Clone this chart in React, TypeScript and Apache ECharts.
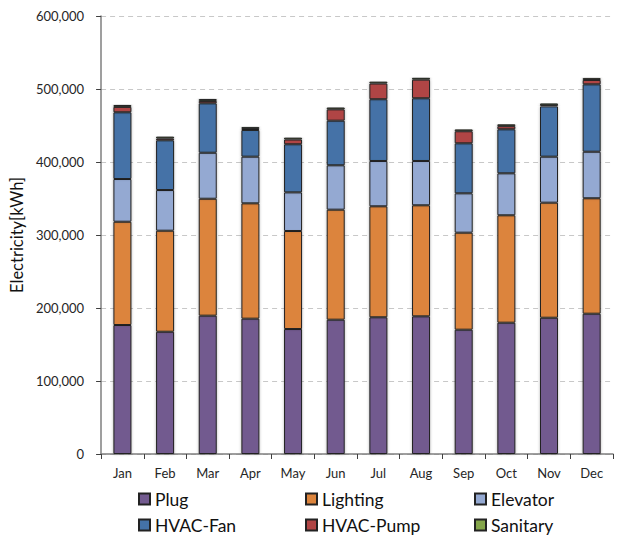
import React, { useEffect, useRef } from "react";
import * as echarts from "echarts";

const months = ["Jan", "Feb", "Mar", "Apr", "May", "Jun", "Jul", "Aug", "Sep", "Oct", "Nov", "Dec"];

// Monthly electricity use by end use [kWh]
const plug = [176700, 167500, 189500, 185400, 171200, 184000, 187300, 188600, 170300, 179900, 186700, 192200];
const lighting = [141500, 138400, 160200, 158000, 134300, 150700, 152000, 152100, 132900, 147100, 157600, 158100];
const elevator = [58500, 55700, 63000, 63900, 52900, 60800, 62100, 60700, 53900, 57500, 63000, 63800];
const hvacFan = [91400, 68100, 67700, 36500, 65900, 61100, 84600, 85900, 68500, 60300, 68900, 92300];
const hvacPump = [7400, 2500, 3300, 1500, 6500, 15500, 21500, 25500, 16500, 4300, 1500, 6000];
const sanitary = [2500, 2500, 2500, 2500, 2500, 2500, 2500, 2500, 2500, 2500, 2500, 2500];

const seriesDefs = [
  { name: "Plug", data: plug, color: "#725A8F" },
  { name: "Lighting", data: lighting, color: "#DC843C" },
  { name: "Elevator", data: elevator, color: "#94A9D2" },
  { name: "HVAC-Fan", data: hvacFan, color: "#4472A7" },
  { name: "HVAC-Pump", data: hvacPump, color: "#B04545" },
  { name: "Sanitary", data: sanitary, color: "#84A54A" },
];

const FONT = "Lato, 'Noto Sans', sans-serif";

export default function App() {
  const ref = useRef<HTMLDivElement>(null);

  useEffect(() => {
    document.body.style.margin = "0";
    if (!ref.current) return;
    const chart = echarts.init(ref.current, undefined, { renderer: "svg" });

    const legendText = { fontFamily: FONT, fontSize: 17.5, color: "#111111" };
    const legendBase = {
      orient: "vertical" as const,
      top: 490,
      icon: "rect",
      itemWidth: 11,
      itemHeight: 11,
      itemGap: 8,
      padding: 0,
      textStyle: legendText,
    };

    chart.setOption({
      animation: false,
      backgroundColor: "#ffffff",
      grid: { left: 100, right: 7, top: 16, bottom: 83 },
      legend: [
        { ...legendBase, left: 138, data: ["Plug", "HVAC-Fan"] },
        { ...legendBase, left: 305, data: ["Lighting", "HVAC-Pump"] },
        { ...legendBase, left: 474, data: ["Elevator", "Sanitary"] },
      ],
      xAxis: {
        type: "category",
        data: months,
        boundaryGap: true,
        axisLine: { lineStyle: { color: "#7f7f7f", width: 1.5 } },
        axisTick: { show: true, interval: 0, length: 5, lineStyle: { color: "#404040" } },
        axisLabel: { fontFamily: FONT, fontSize: 13, color: "#262626", margin: 12 },
      },
      yAxis: {
        type: "value",
        min: 0,
        max: 600000,
        interval: 100000,
        name: "Electricity[kWh]",
        nameLocation: "middle",
        nameGap: 64,
        nameTextStyle: { fontFamily: FONT, fontSize: 16.5, color: "#111111" },
        axisLine: { show: true, lineStyle: { color: "#7f7f7f", width: 1.5 } },
        axisTick: { show: true, length: 5, lineStyle: { color: "#404040" } },
        axisLabel: {
          fontFamily: FONT,
          fontSize: 13,
          color: "#262626",
          margin: 17,
          formatter: (v: number) => v.toLocaleString("en-US"),
        },
        splitLine: { lineStyle: { color: "#c8c8c8", type: [5, 4], width: 1 } },
      },
      series: seriesDefs.map((s) => ({
        name: s.name,
        type: "bar",
        stack: "total",
        barWidth: 18,
        data: s.data,
        itemStyle: {
          color: s.color,
          borderColor: "#222222",
          borderWidth: 1,
          shadowColor: "rgba(0,0,0,0.3)",
          shadowBlur: 3,
        },
      })),
    });

    return () => chart.dispose();
  }, []);

  return <div ref={ref} style={{ width: 620, height: 537 }} />;
}
